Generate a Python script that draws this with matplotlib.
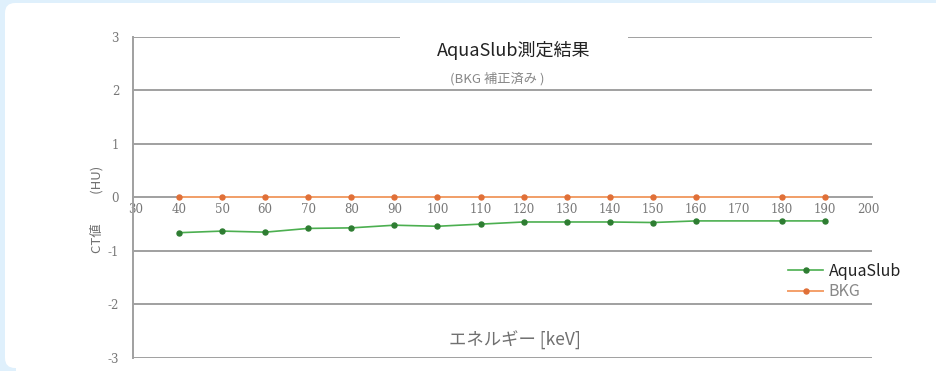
import numpy as np
import matplotlib.pyplot as plt
from matplotlib.patches import FancyBboxPatch, Rectangle
from matplotlib.transforms import IdentityTransform

plt.rcParams['font.family'] = ['Noto Sans CJK JP', 'DejaVu Sans']

# data
energy = [40, 50, 60, 70, 80, 90, 100, 110, 120, 130, 140, 150, 160, 180, 190]
aquaslub = [-0.66, -0.63, -0.65, -0.58, -0.57, -0.52, -0.54, -0.50, -0.46, -0.46, -0.46, -0.47, -0.44, -0.44, -0.44]
bkg = [0, 0, 0, 0, 0, 0, 0, 0, 0, 0, 0, 0, 0, 0, 0]
xticks = list(range(30, 201, 10))
yticks = [-3, -2, -1, 0, 1, 2, 3]

W, H = 937, 371
blue = '#dff0fc'
fig = plt.figure(figsize=(W / 100, H / 100), dpi=100)
fig.patch.set_facecolor('white')

# light blue page frame on the left and top, rounded corners of the card
px = IdentityTransform()
fig.patches.append(Rectangle((0, 0), 5, H, transform=px, facecolor=blue,
                             edgecolor='none', zorder=-2))
fig.patches.append(Rectangle((0, H - 3), W, 3, transform=px, facecolor=blue,
                             edgecolor='none', zorder=-2))
fig.patches.append(Rectangle((0, 0), 16, 16, transform=px, facecolor=blue,
                             edgecolor='none', zorder=-2))
fig.patches.append(Rectangle((0, H - 16), 16, 16, transform=px, facecolor=blue,
                             edgecolor='none', zorder=-2))
card = FancyBboxPatch((5, 3), 1000, 365,
                      boxstyle="round,pad=0,rounding_size=10",
                      transform=px, facecolor='white',
                      edgecolor='none', zorder=-1)
fig.patches.append(card)

ax = fig.add_axes([133 / W, 1 - 358 / H, 739 / W, 321.3 / H])
ax.set_facecolor('none')

grid_col = '#a0a0a0'
ax.spines['bottom'].set_position(('data', 0))
ax.spines['bottom'].set_color(grid_col)
ax.spines['bottom'].set_linewidth(1.4)
ax.spines['left'].set_color(grid_col)
ax.spines['left'].set_linewidth(1.4)
ax.spines['top'].set_visible(False)
ax.spines['right'].set_visible(False)

for yv in yticks:
    if yv != 0:
        ax.axhline(yv, color=grid_col, lw=1.4, zorder=1)

ax.plot(energy, aquaslub, color='#4caf50', lw=1.2, marker='o', ms=3.6,
        mfc='#2e7d32', mec='#2e7d32', zorder=3, label='AquaSlub')
ax.plot(energy, bkg, color='#f4a06a', lw=1.4, marker='o', ms=3.6,
        mfc='#e07038', mec='#e07038', zorder=3, label='BKG')

ax.set_xlim(29.3, 200.9)
ax.set_ylim(-3, 3)
ax.set_xticks(xticks)
ax.set_yticks(yticks)
ax.set_xticklabels([str(t) for t in xticks], color='#777777', fontsize=8.5,
                   family='DejaVu Serif')
ax.set_yticklabels([str(t) for t in yticks], color='#777777', fontsize=8.5,
                   family='DejaVu Serif')
ax.tick_params(axis='x', length=0, pad=4)
ax.tick_params(axis='y', length=0, pad=10)

# title with white box over the top grid line
fig.patches.append(Rectangle((400 / W, 1 - 63 / H), 228 / W, 27 / H,
                             transform=fig.transFigure, facecolor='white',
                             edgecolor='none', zorder=2))
fig.text(514 / W, 1 - 50 / H, 'AquaSlub測定結果', ha='center', va='center',
         fontsize=13, color='#222222', zorder=3)
fig.text(497 / W, 1 - 79 / H, '(BKG 補正済み )', ha='center', va='center',
         fontsize=9.5, color='#888888', zorder=3)

fig.text(515 / W, 1 - 340 / H, 'エネルギー [keV]', ha='center', va='center',
         fontsize=12.5, color='#707070')
fig.text(97 / W, 1 - 209 / H, 'CT値　　 (HU)', ha='center', va='center',
         rotation=90, fontsize=9.5, color='#707070')

leg = ax.legend(loc='upper left', bbox_to_anchor=(780 / W, 1 - 255 / H),
                bbox_transform=fig.transFigure, frameon=False, fontsize=11.5,
                handlelength=2.2, handletextpad=0.35, labelspacing=0.2,
                borderpad=0)
leg.get_texts()[0].set_color('#222222')
leg.get_texts()[1].set_color('#888888')

fig.savefig('out.png', dpi=100, facecolor=fig.get_facecolor())
